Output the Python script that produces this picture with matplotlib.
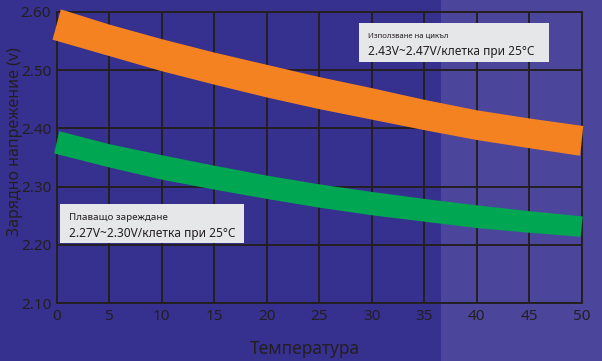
import matplotlib.pyplot as plt
from matplotlib.patches import Rectangle, Polygon

plt.rcParams['font.family'] = ['Noto Sans', 'DejaVu Sans']

temps = [0, 5, 10, 15, 20, 25, 30, 35, 40, 45, 50]
cycle_top = [2.604, 2.578, 2.553, 2.530, 2.509, 2.488, 2.469, 2.449, 2.431, 2.417, 2.404]
cycle_bottom = [2.552, 2.524, 2.498, 2.475, 2.453, 2.433, 2.415, 2.397, 2.380, 2.366, 2.353]
float_top = [2.395, 2.373, 2.354, 2.336, 2.319, 2.304, 2.291, 2.279, 2.268, 2.258, 2.249]
float_bottom = [2.357, 2.333, 2.312, 2.295, 2.279, 2.264, 2.251, 2.240, 2.229, 2.221, 2.214]

x_ticks = [0, 5, 10, 15, 20, 25, 30, 35, 40, 45, 50]
y_ticks = [2.10, 2.20, 2.30, 2.40, 2.50, 2.60]

cycle_title = "Използване на цикъл"
cycle_text = "2.43V~2.47V/клетка при 25°C"
float_title = "Плаващо зареждане"
float_text = "2.27V~2.30V/клетка при 25°C"

DARK_BG = "#36308F"
LIGHT_BG = "#4B469C"
INK = "#231F20"
BOX = "#E6E7E8"

W, H = 602, 361
fig = plt.figure(figsize=(W / 100, H / 100), dpi=100, facecolor=DARK_BG)
fig.patches.append(Rectangle((441 / W, 0), 1 - 441 / W, 1, transform=fig.transFigure,
                             facecolor=LIGHT_BG, edgecolor="none", zorder=-1))

ax = fig.add_axes([56.7 / W, 1 - 303.3 / H, 525 / W, 291.6 / H])
ax.set_facecolor("none")
ax.set_xlim(0, 50)
ax.set_ylim(2.10, 2.60)
ax.set_xticks(x_ticks)
ax.set_yticks(y_ticks)
ax.set_yticklabels([f"{v:.2f}" for v in y_ticks])
ax.tick_params(length=0, labelsize=11, colors=INK, pad=4)
ax.grid(True, color=INK, linewidth=1.4)
ax.set_axisbelow(True)
for sp in ax.spines.values():
    sp.set_color(INK)
    sp.set_linewidth(1.4)


def band(top, bottom, color, lead=0.4, tail=0.15):
    # slanted caps on both ends of the ribbon
    xt = list(temps)
    xb = list(temps)
    xt[0] += lead
    xb[0] -= lead
    xt[-1] += tail
    xb[-1] -= tail
    pts = list(zip(xt, top)) + list(zip(xb, bottom))[::-1]
    ax.add_patch(Polygon(pts, closed=True, facecolor=color, edgecolor="none",
                         zorder=3, clip_on=False))


band(cycle_top, cycle_bottom, "#F58220")
band(float_top, float_bottom, "#00A651", lead=0.25, tail=0.1)

fig.text(305 / W, 1 - 349 / H, "Температура", fontsize=12.5, color=INK,
         ha="center", va="center")
fig.text(15 / W, 1 - 142 / H, "Зарядно напрежение (v)", rotation=90, fontsize=11.5,
         color=INK, ha="center", va="center")


def note(x0, y0, x1, y1, title, text, title_size):
    fig.patches.append(Rectangle((x0 / W, 1 - y1 / H), (x1 - x0) / W, (y1 - y0) / H,
                                 transform=fig.transFigure, facecolor=BOX,
                                 edgecolor="none", zorder=5))
    fig.text((x0 + 9) / W, 1 - (y0 + 13) / H, title, fontsize=title_size,
             color=INK, va="center", zorder=6)
    fig.text((x0 + 9) / W, 1 - (y1 - 10) / H, text, fontsize=8.6,
             color=INK, va="center", zorder=6)


note(359, 23, 549, 62, cycle_title, cycle_text, 5.5)
note(60, 204, 244, 243, float_title, float_text, 7)

fig.savefig("out.png", dpi=100, facecolor=DARK_BG)
